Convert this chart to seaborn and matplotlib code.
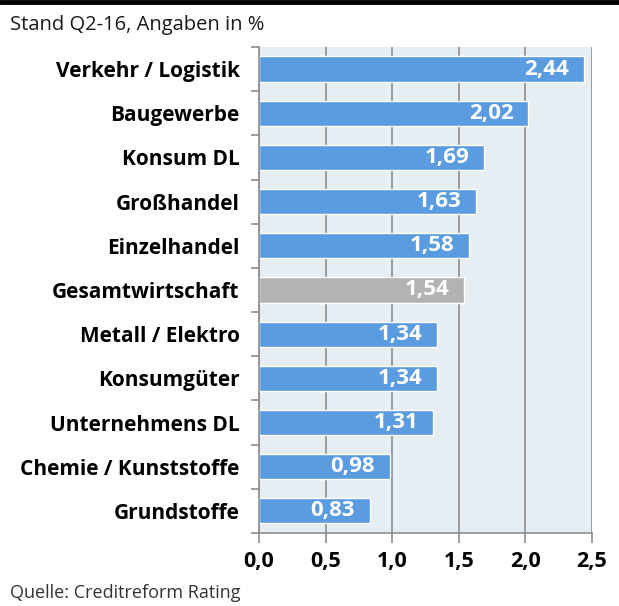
import pandas as pd
import matplotlib.pyplot as plt
import seaborn as sns
from matplotlib.lines import Line2D

# Branchen und Ausfallraten (Stand Q2-16)
branchen = ["Verkehr / Logistik", "Baugewerbe", "Konsum DL", "Großhandel", "Einzelhandel",
            "Gesamtwirtschaft", "Metall / Elektro", "Konsumgüter", "Unternehmens DL",
            "Chemie / Kunststoffe", "Grundstoffe"]
werte = [2.44, 2.02, 1.69, 1.63, 1.58, 1.54, 1.34, 1.34, 1.31, 0.98, 0.83]
x_ticks = [0.0, 0.5, 1.0, 1.5, 2.0, 2.5]

BLUE = "#5b9be0"
GREY = "#b3b3b3"
LINE = "#8c8c8c"
farben = [GREY if b == "Gesamtwirtschaft" else BLUE for b in branchen]

df = pd.DataFrame({"branche": branchen, "wert": werte})

sns.set_style("white")
plt.rcParams["font.family"] = ["Open Sans", "DejaVu Sans"]

fig = plt.figure(figsize=(6.19, 6.06), dpi=100)
ax = fig.add_axes([0.4184, 0.1205, 0.538, 0.802])
ax.set_facecolor("#e6eef4")

sns.barplot(data=df, x="wert", y="branche", hue="branche", palette=farben,
            legend=False, width=0.57, orient="h", ax=ax, saturation=1)

ax.set_xlim(0, 2.5)
ax.set_ylim(len(branchen) - 0.5, -0.5)
ax.set_xticks(x_ticks)
ax.set_xticklabels([f"{t:.1f}".replace(".", ",") for t in x_ticks],
                   fontsize=15.5, fontweight="bold", color="black")
ax.set_yticklabels(branchen, fontsize=15, fontweight="bold", color="black")
ax.set_xlabel("")
ax.set_ylabel("")

# vertikales Gitter
ax.grid(axis="x", color=LINE, linewidth=1.2)
ax.set_axisbelow(True)

# y-Ticks an den Kategoriegrenzen
ax.set_yticks([i - 0.5 for i in range(len(branchen) + 1)], minor=True)
ax.tick_params(axis="y", which="major", left=False, length=0, pad=14)
ax.tick_params(axis="y", which="minor", left=True, length=6, color=LINE, width=1.2)
ax.tick_params(axis="x", which="major", bottom=True, length=7, color=LINE, width=1.2, pad=6)

for side in ["top", "right"]:
    ax.spines[side].set_visible(False)
for side in ["left", "bottom"]:
    ax.spines[side].set_color(LINE)
    ax.spines[side].set_linewidth(1.2)

# Werte in den Balken
for i, v in enumerate(werte):
    ax.text(v - 0.11, i, f"{v:.2f}".replace(".", ","), ha="right", va="center",
            color="white", fontsize=16, fontweight="bold")

fig.text(0.016, 0.958, "Stand Q2-16, Angaben in %", fontsize=14.5, color="#1a1a1a",
         ha="left", va="center")
fig.text(0.016, 0.022, "Quelle: Creditreform Rating", fontsize=13, color="#333333",
         ha="left", va="center")
fig.add_artist(Line2D([0, 1], [0.9965, 0.9965], color="black", linewidth=3.5,
                      transform=fig.transFigure))

fig.savefig("out.png", dpi=100)
